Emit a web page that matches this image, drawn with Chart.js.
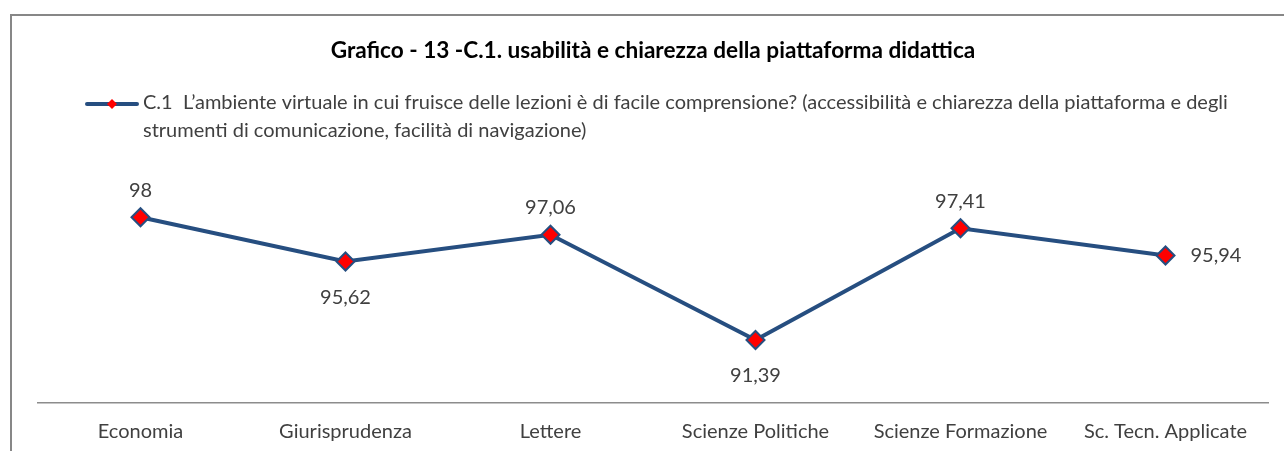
<!DOCTYPE html>
<html>
<head>
<meta charset="utf-8">
<script src="https://cdn.jsdelivr.net/npm/chart.js@4"></script>
<style>
html,body{margin:0;padding:0;background:#fff;}
#wrap{position:absolute;left:0;top:0;width:1284px;height:451px;}
</style>
</head>
<body>
<div id="wrap"><canvas id="c" width="1284" height="451"></canvas></div>
<script>
const categories = ["Economia", "Giurisprudenza", "Lettere", "Scienze Politiche", "Scienze Formazione", "Sc. Tecn. Applicate"];
const values = [98, 95.62, 97.06, 91.39, 97.41, 95.94];
const valueLabels = ["98", "95,62", "97,06", "91,39", "97,41", "95,94"];
const seriesName = ["C.1  L\u2019ambiente virtuale in cui fruisce delle lezioni \u00e8 di facile comprensione? (accessibilit\u00e0 e chiarezza della piattaforma e degli", "strumenti di comunicazione, facilit\u00e0 di navigazione)"];
const titleText = "Grafico - 13 -C.1. usabilit\u00e0 e chiarezza della piattaforma didattica";

const FONT = "Lato, 'Noto Sans', sans-serif";
const LINE = "#264E80";
const TEXT = "#404040";

const frame = {
  id: 'frame',
  beforeDraw(chart) {
    const ctx = chart.ctx;
    ctx.save();
    ctx.fillStyle = '#fff';
    ctx.fillRect(0, 0, chart.width, chart.height);
    ctx.strokeStyle = '#878787';
    ctx.lineWidth = 2;
    ctx.beginPath();
    ctx.moveTo(11, chart.height);
    ctx.lineTo(11, 15);
    ctx.lineTo(chart.width, 15);
    ctx.stroke();
    ctx.restore();
  }
};

const legendPlugin = {
  id: 'customLegend',
  afterDraw(chart) {
    const ctx = chart.ctx;
    ctx.save();
    ctx.strokeStyle = LINE;
    ctx.lineWidth = 4;
    ctx.lineCap = 'round';
    ctx.beginPath();
    ctx.moveTo(87, 104);
    ctx.lineTo(137, 104);
    ctx.stroke();
    ctx.fillStyle = '#FF0000';
    ctx.beginPath();
    ctx.moveTo(112, 99); ctx.lineTo(117, 104); ctx.lineTo(112, 109); ctx.lineTo(107, 104); ctx.closePath();
    ctx.fill();
    ctx.fillStyle = TEXT;
    ctx.font = "20px " + FONT;
    ctx.textBaseline = 'middle';
    ctx.textAlign = 'left';
    seriesName.forEach((t, i) => ctx.fillText(t, 143, 103 + i * 28));
    ctx.restore();
  }
};

const dataLabels = {
  id: 'dataLabels',
  afterDatasetsDraw(chart, args, opts) {
    const ctx = chart.ctx;
    const meta = chart.getDatasetMeta(0);
    ctx.save();
    ctx.fillStyle = TEXT;
    ctx.font = "20px " + FONT;
    meta.data.forEach((pt, i) => {
      const pos = opts.positions[i];
      let x = pt.x, y = pt.y;
      if (pos === 'top') { ctx.textAlign = 'center'; ctx.textBaseline = 'middle'; y -= 27; }
      else if (pos === 'bottom') { ctx.textAlign = 'center'; ctx.textBaseline = 'middle'; y += 36; }
      else { ctx.textAlign = 'left'; ctx.textBaseline = 'middle'; x += 25; }
      ctx.fillText(valueLabels[i], x, y);
    });
    ctx.restore();
  }
};

new Chart(document.getElementById('c'), {
  type: 'line',
  data: {
    labels: categories,
    datasets: [{
      label: seriesName.join(' '),
      data: values,
      borderColor: LINE,
      borderWidth: 4,
      tension: 0,
      pointStyle: 'rectRot',
      pointRadius: 9,
      pointHoverRadius: 9,
      pointBackgroundColor: '#FF0000',
      pointBorderColor: LINE,
      pointBorderWidth: 2
    }]
  },
  options: {
    responsive: false,
    animation: false,
    events: [],
    layout: { padding: { left: 38, right: 16, top: 0, bottom: 4 } },
    plugins: {
      legend: { display: false },
      tooltip: { enabled: false },
      title: {
        display: true,
        text: titleText,
        color: '#000',
        font: { family: FONT, size: 22.6, weight: 'bold' },
        padding: { top: 37, bottom: 116 }
      },
      dataLabels: { positions: ['top', 'bottom', 'top', 'bottom', 'top', 'right'] }
    },
    scales: {
      x: {
        offset: true,
        grid: { display: false, drawTicks: false },
        border: { display: true, color: '#8C8C8C', width: 1.5 },
        ticks: { color: TEXT, font: { family: FONT, size: 20 }, padding: 17, maxRotation: 0, autoSkip: false },
        afterFit(scale) { scale.height = 44; }
      },
      y: {
        display: false,
        min: 88,
        max: 100
      }
    }
  },
  plugins: [frame, legendPlugin, dataLabels]
});
</script>
</body>
</html>
